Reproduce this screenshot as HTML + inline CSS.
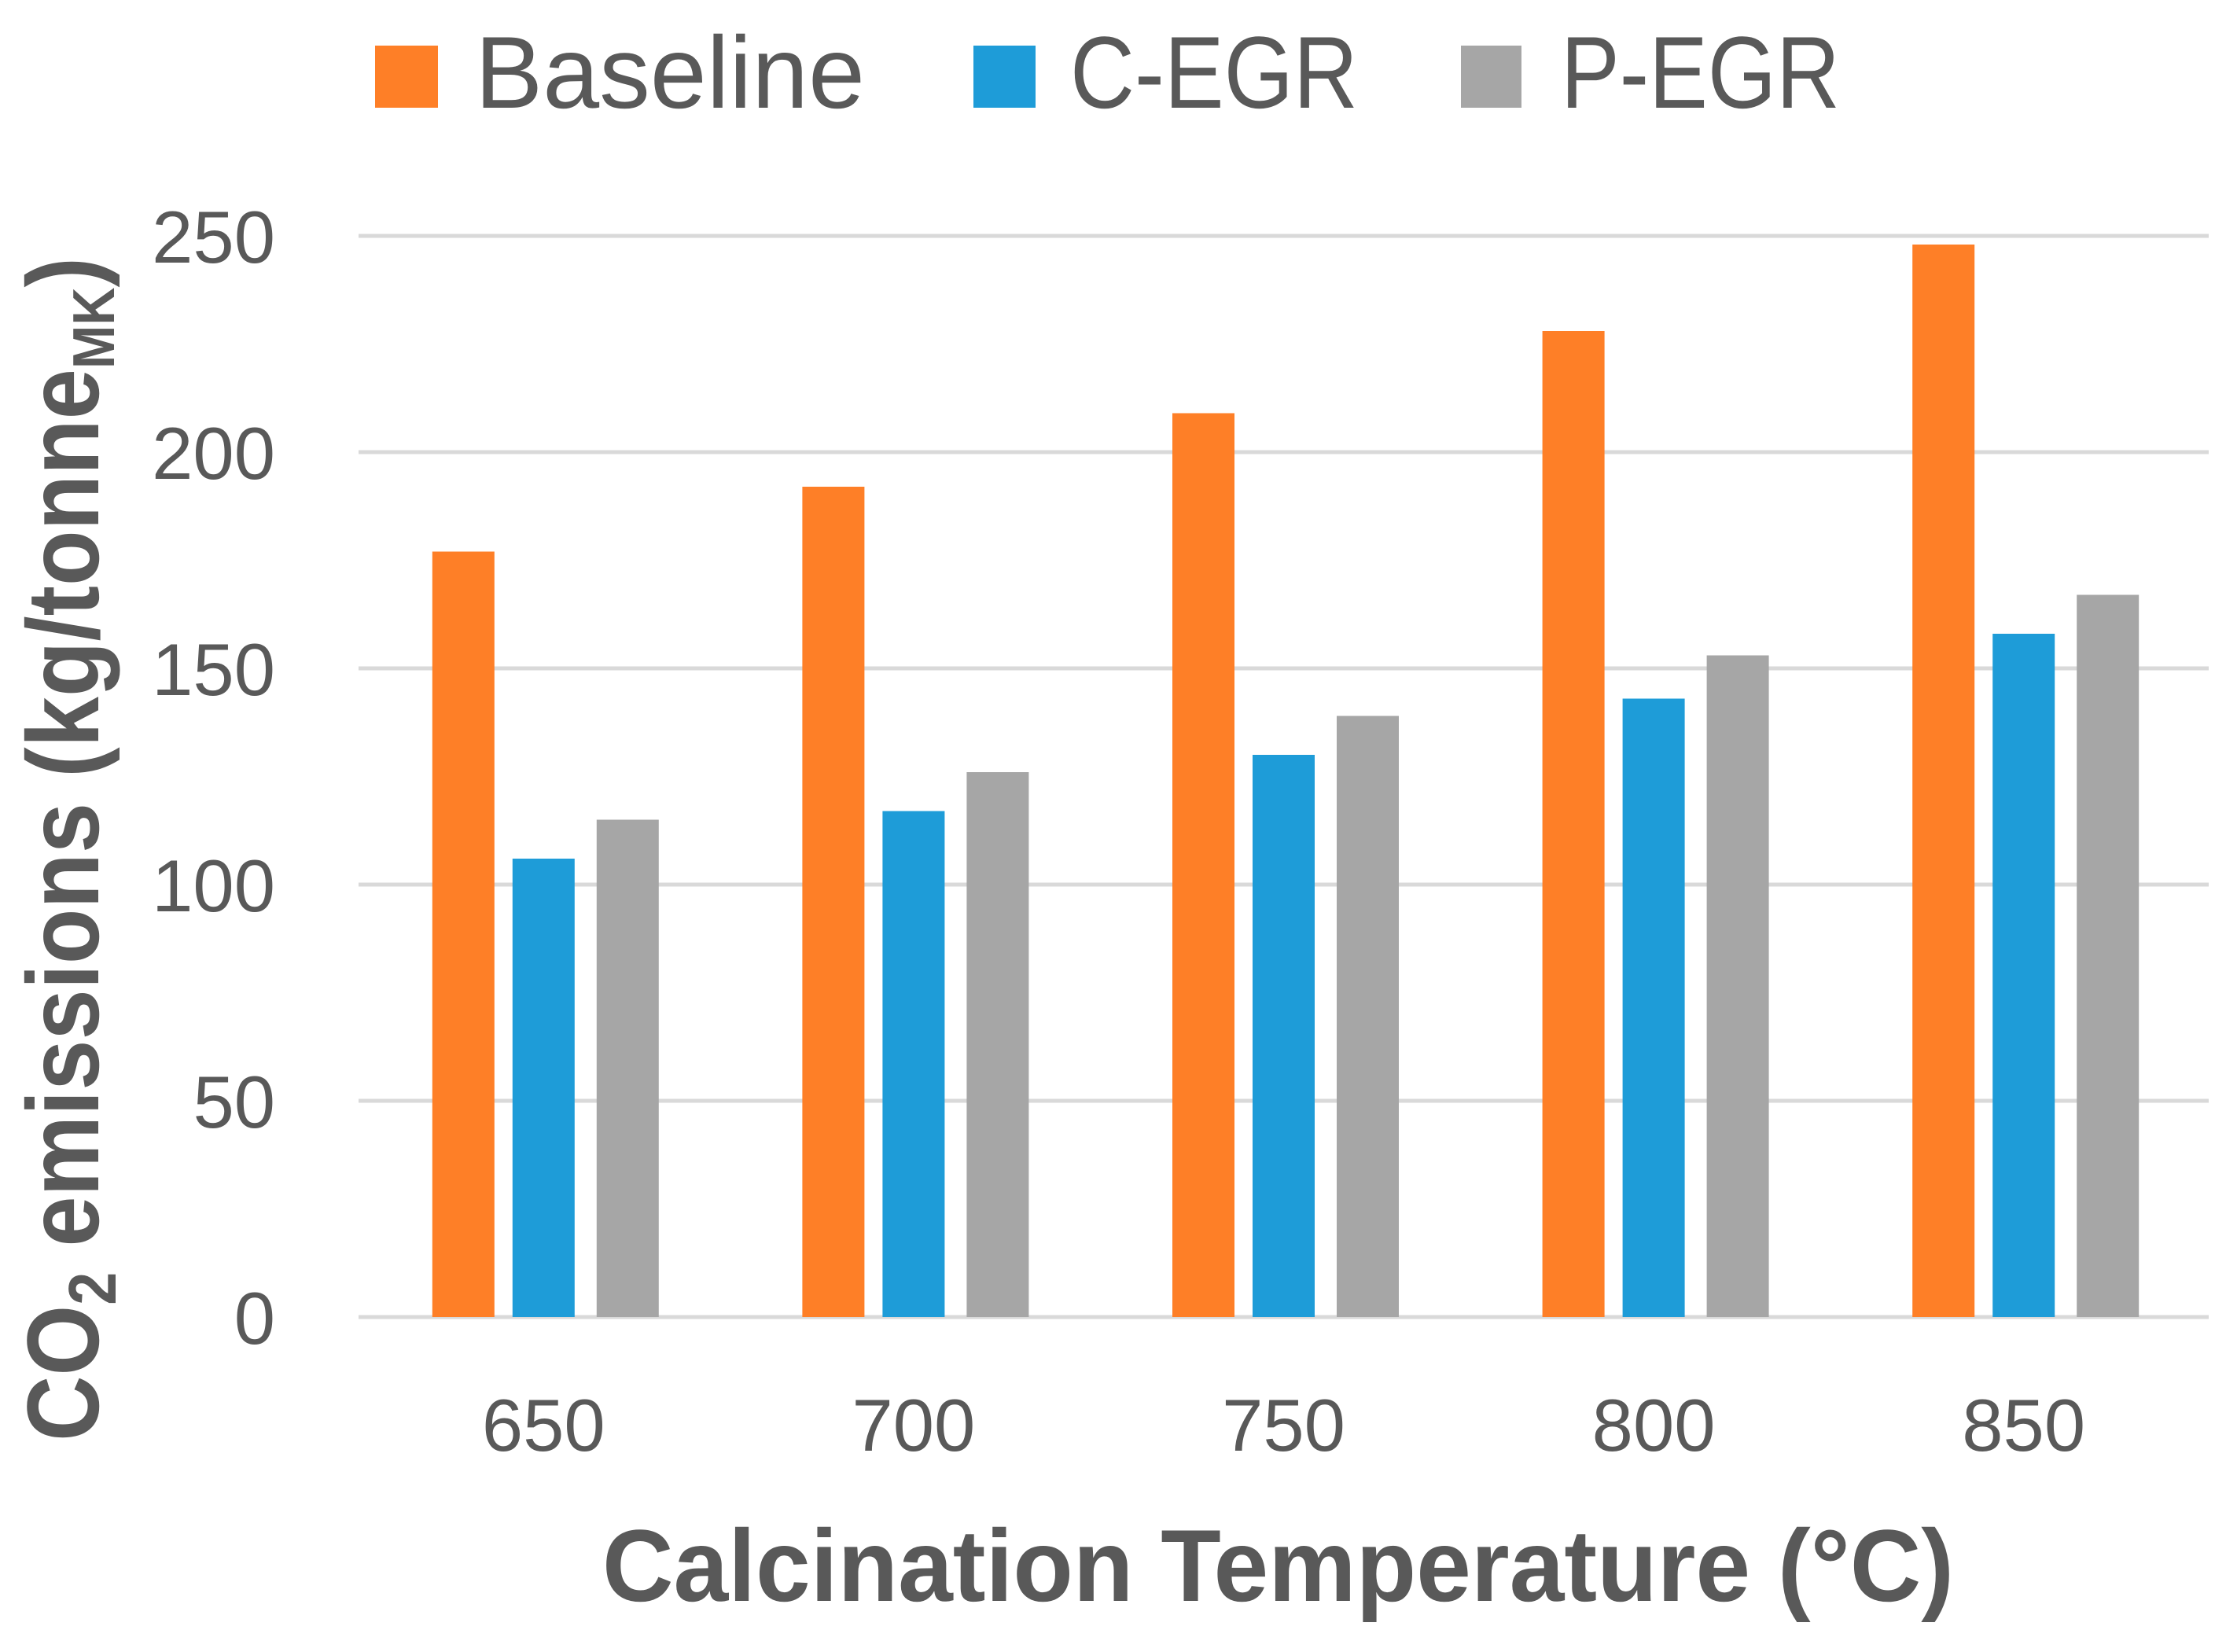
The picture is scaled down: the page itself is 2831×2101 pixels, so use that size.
<!DOCTYPE html>
<html><head><meta charset="utf-8"><style>
html,body{margin:0;padding:0;background:#fff;}
svg{display:block;font-family:"Liberation Sans",sans-serif;}
</style></head><body>
<svg id="chart" width="2831" height="2101" viewBox="0 0 2831 2101" xmlns="http://www.w3.org/2000/svg">
<rect x="0" y="0" width="2831" height="2101" fill="#fff"/>
<g id="grid"></g>
<g id="yticks"></g>
<g id="bars"></g>
<g id="xticks"></g>
<g>
  <rect x="477" y="58" width="80" height="79" fill="#FE7F27"/>
  <text x="604" y="137" font-size="130" fill="#595959" textLength="496" lengthAdjust="spacingAndGlyphs">Baseline</text>
  <rect x="1238" y="58" width="79" height="79" fill="#1E9CD8"/>
  <text x="1361" y="137" font-size="130" fill="#595959" textLength="366" lengthAdjust="spacingAndGlyphs">C-EGR</text>
  <rect x="1858" y="58" width="77" height="79" fill="#A6A6A6"/>
  <text x="1985" y="137" font-size="130" fill="#595959" textLength="355" lengthAdjust="spacingAndGlyphs">P-EGR</text>
</g>
<text x="766" y="2036" font-size="130" font-weight="bold" fill="#595959" textLength="1719" lengthAdjust="spacingAndGlyphs">Calcination Temperature (°C)</text>
<text transform="translate(125,1833) rotate(-90)" x="0" y="0" font-size="130" font-weight="bold" fill="#595959" textLength="1506" lengthAdjust="spacingAndGlyphs">CO<tspan font-size="85" dy="22">2</tspan><tspan dy="-22"> emissions (kg/tonne</tspan><tspan font-size="75" dy="20">MK</tspan><tspan dy="-20">)</tspan></text>
</svg>
<script>
const categories = ["650","700","750","800","850"];
const baseline = [177,192,209,228,248];
const cegr = [106,117,130,143,158];
const pegr = [115,126,139,153,167];
const yTicks = [0,50,100,150,200,250];

const NS = "http://www.w3.org/2000/svg";
const plotL = 456, plotR = 2809, plotB = 1675, plotT = 300, yMax = 250;
function yScale(v){ return plotB - (v / yMax) * (plotB - plotT); }
const band = (plotR - plotL) / categories.length;
function xCenter(i){ return plotL + band * (i + 0.5); }

const grid = document.getElementById('grid');
const yt = document.getElementById('yticks');
yTicks.forEach(t => {
  const l = document.createElementNS(NS,'line');
  
  
  l.setAttribute('x1', plotL); l.setAttribute('x2', plotR);
  l.setAttribute('y1', yScale(t)); l.setAttribute('y2', yScale(t));
  l.setAttribute('stroke', '#D9D9D9'); l.setAttribute('stroke-width', '5');
  grid.appendChild(l);
  const tx = document.createElementNS(NS,'text');
  
  
  tx.setAttribute('x', 350); tx.setAttribute('y', yScale(t) + 34);
  tx.setAttribute('text-anchor', 'end'); tx.setAttribute('font-size', '94');
  tx.setAttribute('fill', '#595959');
  tx.textContent = String(t);
  yt.appendChild(tx);
});

const series = [
  {vals: baseline, color: '#FE7F27', off: -102, name: 'bar-baseline'},
  {vals: cegr, color: '#1E9CD8', off: 0, name: 'bar-c-egr'},
  {vals: pegr, color: '#A6A6A6', off: 107, name: 'bar-p-egr'}
];
const barW = 79;
const bars = document.getElementById('bars');
const xt = document.getElementById('xticks');
categories.forEach((c, i) => {
  const cx = xCenter(i);
  series.forEach(s => {
    const r = document.createElementNS(NS,'rect');
    
    
    const y = yScale(s.vals[i]);
    r.setAttribute('x', cx + s.off - barW/2);
    r.setAttribute('y', y);
    r.setAttribute('width', barW);
    r.setAttribute('height', plotB - y);
    r.setAttribute('fill', s.color);
    bars.appendChild(r);
  });
  const tx = document.createElementNS(NS,'text');
  
  
  tx.setAttribute('x', cx); tx.setAttribute('y', 1845);
  tx.setAttribute('text-anchor', 'middle'); tx.setAttribute('font-size', '94');
  tx.setAttribute('fill', '#595959');
  tx.textContent = c;
  xt.appendChild(tx);
});
</script>
</body></html>
